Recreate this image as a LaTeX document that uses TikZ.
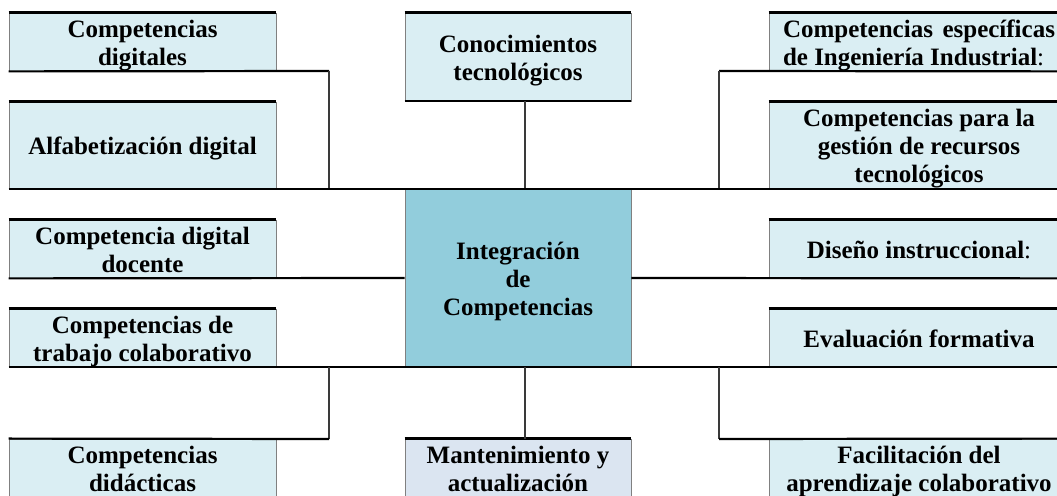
\documentclass[tikz,border=0pt]{standalone}
\usepackage{fontspec}
\setmainfont{Liberation Serif}

\definecolor{boxblue}{HTML}{DAEEF3}
\definecolor{centerblue}{HTML}{92CDDC}
\definecolor{boxlilac}{HTML}{DBE5F1}
\definecolor{sidegray}{HTML}{808080}
\definecolor{linkgray}{HTML}{3A3A3A}

\begin{document}
\begin{tikzpicture}[x=0.5pt, y=-0.5pt,
  box/.style={draw=sidegray, line width=0.4pt, fill=boxblue, inner sep=0pt,
    align=flush center, font=\bfseries\fontsize{12.5}{14}\selectfont,
    execute at begin node={\rule{0pt}{0.96em}},
    execute at end node={\rule[-0.216em]{0pt}{0.216em}}},
  edge/.style={line width=1.1pt, black},
  link/.style={line width=0.55pt, linkgray}]
   % Sizes
   \pgfmathsetmacro{\leftw}{133.5}
   \pgfmathsetmacro{\midw}{113}
   \pgfmathsetmacro{\rightw}{150}
   \pgfmathsetmacro{\rowh}{29}
   \useasboundingbox (0,0) rectangle (1057,496);
   \clip (0,0) rectangle (1057,496);

   % left column
   \node[box, text width=\leftw pt, minimum height=\rowh pt] (digitales) at (142.5,42) {Competencias\\digitales};
   \node[box, text width=\leftw pt, minimum height=43.5pt] (alfabetizacion) at (142.5,145.5) {Alfabetización digital};
   \node[box, text width=\leftw pt, minimum height=\rowh pt] (docente) at (142.5,249) {Competencia digital\\docente};
   \node[box, text width=\leftw pt, minimum height=\rowh pt] (colaborativo) at (142.5,338) {Competencias de\\trabajo colaborativo};
   \node[box, text width=\leftw pt, minimum height=\rowh pt] (didacticas) at (142.5,468) {Competencias\\didácticas};

   % middle column
   \node[box, text width=\midw pt, minimum height=44pt] (conocimientos) at (518,57) {Conocimientos\\tecnológicos};
   \node[box, fill=centerblue, text width=\midw pt, minimum height=89pt] (integracion) at (518,278) {Integración\\de\\Competencias};
   \node[box, fill=boxlilac, text width=\midw pt, minimum height=\rowh pt] (mantenimiento) at (518,468) {Mantenimiento y\\actualización};

   % right column
   \node[box, align=flush left, text width=136pt, minimum width=\rightw pt, minimum height=\rowh pt] (especificas) at (919,42) {Competencias \hfill específicas\\de Ingeniería Industrial{\mdseries :}};
   \node[box, text width=\rightw pt, minimum height=43.5pt] (gestion) at (919,145.5) {Competencias para la\\gestión de recursos\\tecnológicos};
   \node[box, text width=\rightw pt, minimum height=\rowh pt] (diseno) at (919,249) {Diseño instruccional{\mdseries :}};
   \node[box, text width=\rightw pt, minimum height=\rowh pt] (evaluacion) at (919,338) {Evaluación formativa};
   \node[box, text width=\rightw pt, minimum height=\rowh pt] (facilitacion) at (919,468) {Facilitación del\\aprendizaje colaborativo};

   % elbows
   \coordinate (jlu) at (329,71);
   \coordinate (jld) at (329,439);
   \coordinate (jru) at (719,71);
   \coordinate (jrd) at (719,439);
   \coordinate (jm) at (525,0);

   % box edges
   \draw[edge] (digitales.north west) -- (digitales.north east);
   \draw[edge] (conocimientos.north west) -- (conocimientos.north east);
   \draw[edge] (conocimientos.south west) -- (conocimientos.south east);
   \draw[edge] (especificas.north west) -- (especificas.north east);
   \draw[edge] (alfabetizacion.north west) -- (alfabetizacion.north east);
   \draw[edge] (gestion.north west) -- (gestion.north east);
   \draw[edge] (docente.north west) -- (docente.north east);
   \draw[edge] (diseno.north west) -- (diseno.north east);
   \draw[edge] (colaborativo.north west) -- (colaborativo.north east);
   \draw[edge] (evaluacion.north west) -- (evaluacion.north east);
   \draw[edge] (mantenimiento.north west) -- (mantenimiento.north east);

   % connectors
   \draw[edge] (digitales.south west) -- (jlu);
   \draw[link] (jlu) -- (jlu |- integracion.north);
   \draw[edge] (jru) -- (especificas.south east);
   \draw[link] (jru) -- (jru |- integracion.north);
   \draw[link] (jm |- conocimientos.south) -- (jm |- integracion.north);
   \draw[edge] (alfabetizacion.south west) -- (gestion.south east);
   \draw[edge] (docente.south west) -- (integracion.west);
   \draw[edge] (integracion.east) -- (diseno.south east);
   \draw[edge] (colaborativo.south west) -- (evaluacion.south east);
   \draw[link] (jld |- colaborativo.south) -- (jld);
   \draw[edge] (jld) -- (didacticas.north west);
   \draw[link] (jrd |- evaluacion.south) -- (jrd);
   \draw[edge] (jrd) -- (facilitacion.north east);
   \draw[link] (jm |- integracion.south) -- (jm |- mantenimiento.north);
\end{tikzpicture}
\end{document}
